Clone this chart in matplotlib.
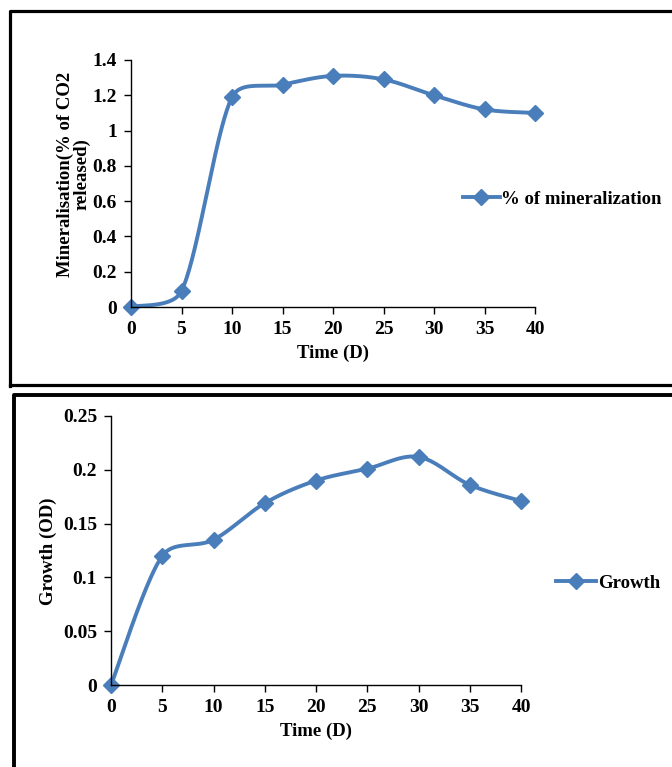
import numpy as np
import matplotlib
matplotlib.use("Agg")
import matplotlib.pyplot as plt
from matplotlib.lines import Line2D

plt.rcParams['font.family'] = ['Liberation Serif', 'DejaVu Serif']
plt.rcParams['font.weight'] = 'bold'

days = [0, 5, 10, 15, 20, 25, 30, 35, 40]
mineral = [0, 0.09, 1.19, 1.26, 1.31, 1.29, 1.20, 1.12, 1.10]
growth = [0, 0.12, 0.135, 0.169, 0.19, 0.201, 0.212, 0.186, 0.171]

mineral_ticks = [0, 0.2, 0.4, 0.6, 0.8, 1, 1.2, 1.4]
mineral_labels = ['0', '0.2', '0.4', '0.6', '0.8', '1', '1.2', '1.4']
growth_ticks = [0, 0.05, 0.1, 0.15, 0.2, 0.25]
growth_labels = ['0', '0.05', '0.1', '0.15', '0.2', '0.25']

BLUE = '#4A7EBB'
W, H = 672, 767
FS = 13.5


def smooth(x, y, sx, sy, n=40, cap=0.36):
    # excel-like smoothed line: catmull-rom bezier, arms capped to a part of the segment
    # sx, sy: pixels per data unit so lengths are measured on screen
    X = np.asarray(x, float) * sx
    Y = np.asarray(y, float) * sy
    P = np.column_stack([X, Y])
    P = np.vstack([P[0], P, P[-1]])
    d = np.hypot(*np.diff(P, axis=0).T)
    t = np.linspace(0, 1, n)[:, None]

    def arm(tan, seg_len):
        L = np.hypot(*tan)
        if L == 0:
            return tan
        a = min(L / 6, cap * seg_len)
        return tan / L * a

    out = []
    for i in range(1, len(P) - 2):
        p0, p3 = P[i], P[i + 1]
        c1 = p0 + arm(P[i + 1] - P[i - 1], d[i])
        c2 = p3 - arm(P[i + 2] - P[i], d[i])
        seg = (1 - t) ** 3 * p0 + 3 * (1 - t) ** 2 * t * c1 + 3 * (1 - t) * t ** 2 * c2 + t ** 3 * p3
        out.append(seg)
    out = np.vstack(out)
    return out[:, 0] / sx, out[:, 1] / sy


def fx(px):
    return px / W


def fy(py):
    return 1 - py / H


fig = plt.figure(figsize=(W / 100, H / 100), dpi=100)

# panel frames
lw = 2.3
fig.add_artist(Line2D([fx(9.5), fx(9.5), fx(700)], [fy(386), fy(10.5), fy(10.5)], color='black', lw=lw))
fig.add_artist(Line2D([fx(9.5), fx(700)], [fy(384.5), fy(384.5)], color='black', lw=lw))
fig.add_artist(Line2D([fx(13.5), fx(13.5), fx(700)], [fy(800), fy(394.5), fy(394.5)], color='black', lw=2.8))


def panel(rect, y, ticks, labels, ylabel, ylab_xy, leg_label, leg_pos, handlelen):
    ax = fig.add_axes(rect)
    wpx = rect[2] * W
    hpx = rect[3] * H
    sx, sy = smooth(days, y, wpx / 40, hpx / (ticks[-1] - ticks[0]))
    ax.plot(sx, sy, color=BLUE, lw=2.8, solid_capstyle='round', clip_on=False)
    ax.plot(days, y, linestyle='none', marker='D', ms=8.5, color=BLUE, clip_on=False)
    ax.plot([], [], color=BLUE, lw=2.8, marker='D', ms=8.5, label=leg_label)
    ax.set_xlim(0, 40)
    ax.set_ylim(ticks[0], ticks[-1])
    ax.set_xticks(days)
    ax.set_xticklabels([str(d) for d in days])
    ax.set_yticks(ticks)
    ax.set_yticklabels(labels)
    for s in ['top', 'right']:
        ax.spines[s].set_visible(False)
    for s in ['left', 'bottom']:
        ax.spines[s].set_linewidth(1.0)
    ax.tick_params(labelsize=14, length=5, width=1.0, pad=5)
    for lab in ax.get_xticklabels() + ax.get_yticklabels():
        lab.set_fontweight('bold')
    ax.set_xlabel('Time (D)', fontsize=FS, fontweight='bold', labelpad=5)
    fig.text(ylab_xy[0], ylab_xy[1], ylabel, rotation=90, ha='center', va='center',
             fontsize=FS, fontweight='bold', multialignment='center', linespacing=0.95)
    ax.legend(loc='center left', bbox_to_anchor=leg_pos, bbox_transform=fig.transFigure,
              frameon=False, handlelength=handlelen, handletextpad=0.1,
              borderpad=0, borderaxespad=0, prop={'weight': 'bold', 'size': FS})
    return ax


panel([fx(131), fy(307), fx(535) - fx(131), fy(60) - fy(307)], mineral,
      mineral_ticks, mineral_labels, 'Mineralisation(% of CO2\nreleased)', (fx(74), fy(174)),
      '% of mineralization', (fx(463), fy(199)), 1.95)
panel([fx(111), fy(685), fx(521) - fx(111), fy(416) - fy(685)], growth,
      growth_ticks, growth_labels, 'Growth (OD)', (fx(48), fy(551)),
      'Growth', (fx(556), fy(583)), 2.15)

fig.savefig('out.png', dpi=100)
